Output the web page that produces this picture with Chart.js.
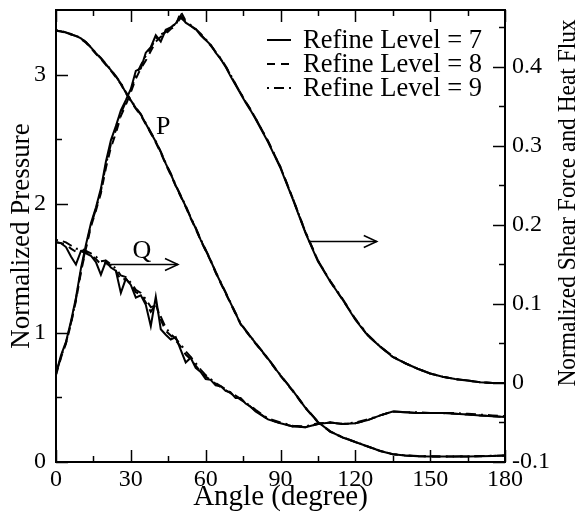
<!DOCTYPE html>
<html>
<head>
<meta charset="utf-8">
<script src="https://cdn.jsdelivr.net/npm/chart.js@4.4.1/dist/chart.umd.min.js"></script>
<style>
  html, body { margin: 0; padding: 0; background: #fff; }
</style>
</head>
<body>
<canvas id="chart" width="576" height="526"></canvas>
<script>
// angle samples (degree) shared by every curve
const ANGLES = [0,2,4,6,8,10,12,14,16,18,20,22,24,26,28,30,32,34,36,38,40,42,44,46,48,50,52,54,56,58,60,62,64,66,68,70,72,74,76,78,80,
  85,90,95,100,105,110,115,120,125,130,135,140,145,150,155,160,165,170,175,180];

// normalized pressure (left axis)
const P7 = [3.340,3.335,3.325,3.310,3.300,3.280,3.250,3.210,3.165,3.125,3.080,3.035,2.985,2.930,2.860,2.800,2.740,2.690,2.620,2.550,2.480,2.400,2.310,2.230,2.140,2.060,1.980,1.890,1.810,1.720,1.640,1.560,1.470,1.390,1.310,1.230,1.150,1.070,1.020,0.970,0.920,
  0.800,0.670,0.550,0.420,0.310,0.235,0.190,0.155,0.120,0.085,0.060,0.050,0.045,0.043,0.042,0.042,0.043,0.045,0.047,0.050];
const P8 = [3.340,3.333,3.322,3.312,3.298,3.276,3.246,3.205,3.160,3.120,3.075,3.030,2.980,2.925,2.855,2.795,2.735,2.684,2.615,2.545,2.474,2.394,2.305,2.224,2.136,2.055,1.975,1.886,1.806,1.716,1.636,1.556,1.466,1.386,1.306,1.226,1.146,1.066,1.016,0.966,0.916,
  0.797,0.667,0.547,0.418,0.308,0.234,0.189,0.154,0.119,0.085,0.060,0.050,0.045,0.043,0.042,0.042,0.043,0.045,0.047,0.050];
const P9 = [3.345,3.338,3.327,3.314,3.302,3.282,3.252,3.212,3.168,3.128,3.083,3.038,2.988,2.934,2.865,2.804,2.744,2.694,2.624,2.554,2.484,2.404,2.314,2.234,2.144,2.064,1.984,1.894,1.814,1.724,1.644,1.564,1.474,1.394,1.314,1.234,1.154,1.074,1.022,0.972,0.922,
  0.802,0.672,0.552,0.422,0.312,0.236,0.191,0.156,0.121,0.086,0.061,0.051,0.046,0.044,0.043,0.043,0.044,0.046,0.048,0.051];

// normalized shear force (right axis)
const S7 = [0.012,0.035,0.052,0.078,0.108,0.145,0.175,0.202,0.222,0.246,0.280,0.307,0.325,0.345,0.358,0.372,0.395,0.398,0.418,0.425,0.440,0.432,0.447,0.450,0.455,0.465,0.456,0.452,0.448,0.440,0.434,0.428,0.418,0.410,0.400,0.388,0.377,0.366,0.355,0.345,0.334,
  0.305,0.272,0.232,0.190,0.154,0.128,0.105,0.080,0.060,0.046,0.033,0.025,0.018,0.012,0.008,0.005,0.003,0.001,0.000,0.000];
const S8 = [0.010,0.032,0.050,0.075,0.104,0.140,0.170,0.198,0.218,0.240,0.272,0.298,0.316,0.338,0.352,0.368,0.385,0.398,0.408,0.420,0.432,0.438,0.442,0.448,0.452,0.470,0.458,0.452,0.447,0.441,0.434,0.427,0.419,0.410,0.401,0.389,0.378,0.367,0.356,0.346,0.335,
  0.306,0.273,0.233,0.191,0.155,0.128,0.105,0.081,0.060,0.046,0.033,0.025,0.018,0.012,0.008,0.005,0.003,0.001,0.000,0.000];
const S9 = [0.011,0.033,0.051,0.076,0.106,0.142,0.172,0.200,0.220,0.243,0.276,0.302,0.320,0.341,0.356,0.370,0.389,0.402,0.414,0.424,0.436,0.441,0.444,0.451,0.454,0.462,0.457,0.453,0.448,0.442,0.435,0.428,0.419,0.411,0.401,0.390,0.378,0.367,0.356,0.346,0.335,
  0.306,0.273,0.233,0.191,0.155,0.129,0.106,0.081,0.061,0.046,0.034,0.025,0.018,0.012,0.008,0.005,0.003,0.001,0.000,0.000];

// normalized heat flux Q (right axis)
const Q7 = [0.178,0.177,0.172,0.160,0.150,0.167,0.164,0.161,0.153,0.137,0.154,0.146,0.142,0.114,0.132,0.124,0.108,0.111,0.099,0.072,0.109,0.068,0.061,0.055,0.058,0.042,0.026,0.032,0.019,0.014,0.005,0.004,-0.003,-0.004,-0.010,-0.012,-0.019,-0.019,-0.026,-0.030,-0.036,
  -0.046,-0.051,-0.055,-0.056,-0.052,-0.050,-0.052,-0.051,-0.047,-0.041,-0.036,-0.037,-0.038,-0.038,-0.038,-0.039,-0.040,-0.041,-0.042,-0.043];
const Q8 = [0.178,0.177,0.175,0.170,0.166,0.168,0.165,0.162,0.157,0.150,0.152,0.148,0.142,0.130,0.132,0.124,0.115,0.112,0.102,0.090,0.100,0.080,0.066,0.060,0.054,0.046,0.036,0.030,0.022,0.014,0.008,0.004,-0.001,-0.005,-0.009,-0.013,-0.017,-0.021,-0.025,-0.030,-0.035,
  -0.046,-0.051,-0.055,-0.056,-0.052,-0.050,-0.052,-0.051,-0.047,-0.041,-0.036,-0.037,-0.038,-0.038,-0.038,-0.039,-0.040,-0.041,-0.042,-0.043];
const Q9 = [0.181,0.180,0.178,0.174,0.170,0.170,0.167,0.164,0.160,0.154,0.155,0.150,0.145,0.136,0.134,0.127,0.118,0.114,0.106,0.096,0.098,0.084,0.070,0.062,0.056,0.049,0.040,0.033,0.025,0.017,0.010,0.005,0.000,-0.004,-0.008,-0.012,-0.016,-0.020,-0.025,-0.029,-0.034,
  -0.045,-0.050,-0.054,-0.055,-0.051,-0.050,-0.052,-0.050,-0.046,-0.041,-0.036,-0.037,-0.037,-0.038,-0.038,-0.038,-0.039,-0.040,-0.041,-0.042];

const LEVELS = [7, 8, 9];

// ticks
const X_TICKS = [0, 30, 60, 90, 120, 150, 180];
const X_MINOR = [15, 45, 75, 105, 135, 165];
const Y_TICKS = [0, 1, 2, 3];
const Y_MINOR = [0.5, 1.5, 2.5];
const Y2_TICKS = [-0.1, 0, 0.1, 0.2, 0.3, 0.4];
const Y2_MINOR = [-0.05, 0.05, 0.15, 0.25, 0.35, 0.45];

const SERIF = "'Liberation Serif', 'Times New Roman', serif";
const DASHES = [[], [8, 6], [2, 5, 10, 5]];

const toPoints = (arr) => ANGLES.map((a, i) => ({ x: a, y: arr[i] }));

const seriesByLevel = [
  { p: P7, s: S7, q: Q7 },
  { p: P8, s: S8, q: Q8 },
  { p: P9, s: S9, q: Q9 },
];

const datasets = [];
seriesByLevel.forEach((set, i) => {
  const label = 'Refine Level = ' + LEVELS[i];
  const common = { label: label, borderColor: '#000', borderWidth: 2, borderDash: DASHES[i], pointRadius: 0, tension: 0, fill: false };
  datasets.push({ ...common, data: toPoints(set.p), yAxisID: 'y' });
  datasets.push({ ...common, data: toPoints(set.s), yAxisID: 'y2' });
  datasets.push({ ...common, data: toPoints(set.q), yAxisID: 'y2' });
});

// keep the plot box fixed: no extra room for overhanging tick labels
const fixBox = (size) => (s) => {
  if (s.isHorizontal()) s.height = size; else s.width = size;
  s.paddingTop = 0; s.paddingBottom = 0; s.paddingLeft = 0; s.paddingRight = 0;
};

// frame, inward ticks, legend, P/Q labels and arrows
const decorations = {
  id: 'decorations',
  afterDatasetsDraw(chart) {
    const { ctx, chartArea: ca, scales } = chart;
    const x = scales.x, y = scales.y, y2 = scales.y2;
    ctx.save();
    ctx.strokeStyle = '#000';
    ctx.lineWidth = 2;
    ctx.setLineDash([]);
    ctx.strokeRect(ca.left, ca.top, ca.right - ca.left, ca.bottom - ca.top);

    ctx.lineWidth = 1.5;
    const line = (x1, y1, x2, y2_) => { ctx.beginPath(); ctx.moveTo(x1, y1); ctx.lineTo(x2, y2_); ctx.stroke(); };
    const xt = (vals, len) => vals.forEach(v => {
      const px = Math.round(x.getPixelForValue(v)) + 0.5;
      line(px, ca.bottom, px, ca.bottom - len);
      line(px, ca.top, px, ca.top + len);
    });
    xt(X_TICKS, 12); xt(X_MINOR, 6);
    const yt = (vals, len) => vals.forEach(v => {
      const py = Math.round(y.getPixelForValue(v)) + 0.5;
      line(ca.left, py, ca.left + len, py);
    });
    yt(Y_TICKS, 12); yt(Y_MINOR, 6);
    const y2t = (vals, len) => vals.forEach(v => {
      const py = Math.round(y2.getPixelForValue(v)) + 0.5;
      line(ca.right, py, ca.right - len, py);
    });
    y2t(Y2_TICKS, 12); y2t(Y2_MINOR, 6);

    // legend
    ctx.font = '26.5px ' + SERIF;
    ctx.fillStyle = '#000';
    ctx.textBaseline = 'middle';
    ctx.lineWidth = 2;
    LEVELS.forEach((lv, i) => {
      const ly = 40 + i * 24;
      ctx.setLineDash(DASHES[i]);
      line(267, ly, 291, ly);
      ctx.setLineDash([]);
      ctx.fillText(datasets[i * 3].label, 303, ly + 1);
    });

    // curve labels
    ctx.font = '26px ' + SERIF;
    ctx.textAlign = 'center';
    ctx.fillText('P', x.getPixelForValue(43), y.getPixelForValue(2.59));
    ctx.fillText('Q', x.getPixelForValue(34.4), y.getPixelForValue(1.63));

    // arrows pointing to the right-hand axis
    const arrow = (a1, a2, v) => {
      const x1 = x.getPixelForValue(a1), x2 = x.getPixelForValue(a2), py = Math.round(y.getPixelForValue(v)) + 0.5;
      ctx.lineWidth = 1.5;
      line(x1, py, x2, py);
      ctx.beginPath();
      ctx.moveTo(x2 - 13, py - 6);
      ctx.lineTo(x2, py);
      ctx.lineTo(x2 - 13, py + 6);
      ctx.stroke();
    };
    arrow(20.3, 48.9, 1.53);
    arrow(101.2, 128.6, 1.71);

    // right axis title, reading bottom to top
    ctx.font = '26px ' + SERIF;
    ctx.textBaseline = 'alphabetic';
    ctx.translate(575, 203);
    ctx.rotate(-Math.PI / 2);
    ctx.scale(0.9, 1);
    ctx.fillText('Normalized Shear Force and Heat Flux', 0, 0);
    ctx.restore();
  }
};

new Chart(document.getElementById('chart'), {
  type: 'line',
  data: { datasets: datasets },
  options: {
    responsive: false,
    animation: false,
    layout: { padding: { top: 10, left: 0, right: 0, bottom: 0 } },
    plugins: { legend: { display: false }, tooltip: { enabled: false } },
    scales: {
      x: {
        type: 'linear', min: 0, max: 180,
        afterBuildTicks: (s) => { s.ticks = X_TICKS.map(v => ({ value: v })); },
        afterFit: fixBox(64),
        grid: { display: false, drawTicks: false }, border: { display: false },
        ticks: { color: '#000', font: { family: SERIF, size: 24 }, padding: 3, maxRotation: 0 },
        title: { display: true, text: 'Angle (degree)', color: '#000', font: { family: SERIF, size: 29 }, padding: { top: 0, bottom: 11 } }
      },
      y: {
        type: 'linear', position: 'left', min: 0, max: 3.5,
        afterBuildTicks: (s) => { s.ticks = Y_TICKS.map(v => ({ value: v })); },
        afterFit: fixBox(56),
        grid: { display: false, drawTicks: false }, border: { display: false },
        ticks: { color: '#000', font: { family: SERIF, size: 24 }, padding: 10 },
        title: { display: true, text: 'Normalized Pressure', color: '#000', font: { family: SERIF, size: 27 }, padding: { top: 6, bottom: 0 } }
      },
      y2: {
        type: 'linear', position: 'right', min: -0.1, max: 0.472,
        afterBuildTicks: (s) => { s.ticks = Y2_TICKS.map(v => ({ value: v })); },
        afterFit: fixBox(71),
        grid: { display: false, drawTicks: false }, border: { display: false },
        ticks: { color: '#000', font: { family: SERIF, size: 24 }, padding: 7,
          callback: (v) => String(Math.round(v * 10) / 10) }
      }
    }
  },
  plugins: [decorations]
});
</script>
</body>
</html>
